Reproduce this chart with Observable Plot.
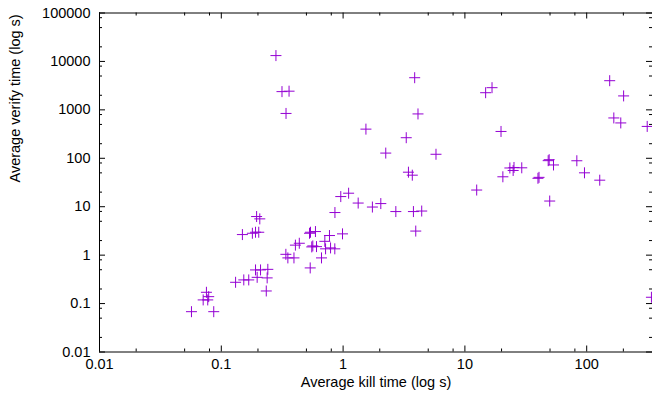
<!DOCTYPE html>
<html>
<head>
<meta charset="utf-8">
<script src="https://cdn.jsdelivr.net/npm/d3@7"></script>
<script src="https://cdn.jsdelivr.net/npm/@observablehq/plot@0.6"></script>
<style>
  html, body { margin: 0; padding: 0; background: #fff; }
  #chart svg { display: block; }
</style>
</head>
<body>
<div id="chart"></div>
<script>
const killTime = [
  0.281, 0.315, 0.360, 0.340, 3.87, 16.7, 14.8, 4.12, 1.54, 3.30, 19.8, 2.24, 5.79,
  154.5, 201, 167, 190.5, 314,
  48.3, 49.2, 53.4, 83.0, 95.9, 128, 39.8, 40.6, 20.5, 23.4, 25.3, 29.3, 24.9,
  3.44, 3.70, 12.5, 49.7,
  0.957, 1.11, 1.33, 1.74, 2.04, 0.857, 2.71, 3.78, 4.42, 3.95,
  0.989, 0.530, 0.540, 0.593, 0.553, 0.564, 0.605, 0.773, 0.708, 0.718, 0.789, 0.855, 0.665,
  0.406, 0.437, 0.339, 0.352, 0.395, 0.537,
  0.195, 0.207, 0.149, 0.180, 0.191, 0.203,
  0.191, 0.210, 0.241, 0.197, 0.238, 0.131, 0.153, 0.168, 0.234,
  0.0755, 0.0788, 0.0710, 0.0774, 0.0569, 0.0867,
  340
];
const verifyTime = [
  13200, 2380, 2430, 843, 4610, 2870, 2260, 824, 400, 266, 358, 128, 121,
  4000, 1940, 681, 537, 455,
  89.3, 93.5, 72.8, 88.9, 50.1, 35.3, 38.6, 40.4, 41.5, 63.1, 64.6, 63.6, 56.0,
  51.6, 44.8, 22.1, 13.1,
  16.2, 19.0, 11.9, 9.85, 11.6, 7.58, 7.94, 7.94, 8.14, 3.14,
  2.75, 2.83, 2.97, 3.07, 1.48, 1.55, 1.50, 2.54, 1.93, 1.35, 1.41, 1.35, 0.877,
  1.61, 1.76, 1.04, 0.877, 0.877, 0.545,
  6.27, 5.61, 2.66, 2.83, 2.97, 2.97,
  0.495, 0.495, 0.509, 0.348, 0.339, 0.275, 0.308, 0.308, 0.182,
  0.171, 0.139, 0.119, 0.119, 0.068, 0.068,
  0.135
];

const xTickValues = [0.01, 0.1, 1, 10, 100];
const xTickLabels = ["0.01", "0.1", "1", "10", "100"];
const yTickValues = [0.01, 0.1, 1, 10, 100, 1000, 10000, 100000];
const yTickLabels = ["0.01", "0.1", "1", "10", "100", "1000", "10000", "100000"];
const minorMultipliers = [2, 5, 8];
const xLabel = "Average kill time (log s)";
const yLabel = "Average verify time (log s)";

const xDomain = [0.01, 347];
const yDomain = [0.01, 100000];

const points = killTime.map((k, i) => ({kill: k, verify: verifyTime[i]}));

const inDomain = (v, dom) => v >= dom[0] && v <= dom[1];
const xMinor = xTickValues.flatMap(t => minorMultipliers.map(m => t * m)).filter(v => inDomain(v, xDomain));
const yMinor = yTickValues.flatMap(t => minorMultipliers.map(m => t * m)).filter(v => inDomain(v, yDomain));

const W = 652, H = 401;
const mL = 99, mR = 0, mT = 12.5, mB = 49.5;
const fw = W - mL - mR, fh = H - mT - mB;
const major = 6, minor = 3;

const plusSymbol = {
  draw(context, size) {
    const r = Math.sqrt(size / Math.PI);
    context.moveTo(-r, 0); context.lineTo(r, 0);
    context.moveTo(0, -r); context.lineTo(0, r);
  }
};

const color = "#9400D3";

const chart = Plot.plot({
  width: W,
  height: H,
  marginLeft: mL,
  marginRight: mR,
  marginTop: mT,
  marginBottom: mB,
  style: {fontFamily: "'Liberation Sans', Arial, sans-serif", fontSize: "14.5px", background: "#fff", color: "#000"},
  x: {type: "log", domain: xDomain, axis: null},
  y: {type: "log", domain: yDomain, axis: null},
  marks: [
    // border lines (left, bottom, top)
    Plot.ruleX([xDomain[0]], {stroke: "#000"}),
    Plot.ruleY([yDomain[0]], {stroke: "#000"}),
    Plot.ruleY([yDomain[1]], {stroke: "#000"}),
    // inward ticks, bottom & top
    Plot.tickX(xTickValues, {x: d => d, insetTop: fh - major, stroke: "#000"}),
    Plot.tickX(xMinor, {x: d => d, insetTop: fh - minor, stroke: "#000"}),
    Plot.tickX(xTickValues, {x: d => d, insetBottom: fh - major, stroke: "#000"}),
    Plot.tickX(xMinor, {x: d => d, insetBottom: fh - minor, stroke: "#000"}),
    // inward ticks, left & right
    Plot.tickY(yTickValues, {y: d => d, insetRight: fw - major, stroke: "#000"}),
    Plot.tickY(yMinor, {y: d => d, insetRight: fw - minor, stroke: "#000"}),
    Plot.tickY(yTickValues, {y: d => d, insetLeft: fw - major, stroke: "#000"}),
    Plot.tickY(yMinor, {y: d => d, insetLeft: fw - minor, stroke: "#000"}),
    // tick labels
    Plot.axisX({ticks: xTickValues, tickFormat: d => xTickLabels[xTickValues.indexOf(d)], tickSize: 0, tickPadding: 7, label: null}),
    Plot.axisY({ticks: yTickValues, tickFormat: d => yTickLabels[yTickValues.indexOf(d)], tickSize: 0, tickPadding: 9, label: null}),
    // axis titles
    Plot.text([xLabel], {frameAnchor: "bottom", dy: 35, text: d => d, fontSize: 14.5}),
    Plot.text([yLabel], {frameAnchor: "left", dx: -84, rotate: -90, text: d => d, fontSize: 14.5}),
    // data
    Plot.dot(points, {x: "kill", y: "verify", symbol: plusSymbol, r: 5.5, fill: "none", stroke: color, strokeWidth: 1})
  ]
});

document.getElementById("chart").appendChild(chart);
</script>
</body>
</html>
